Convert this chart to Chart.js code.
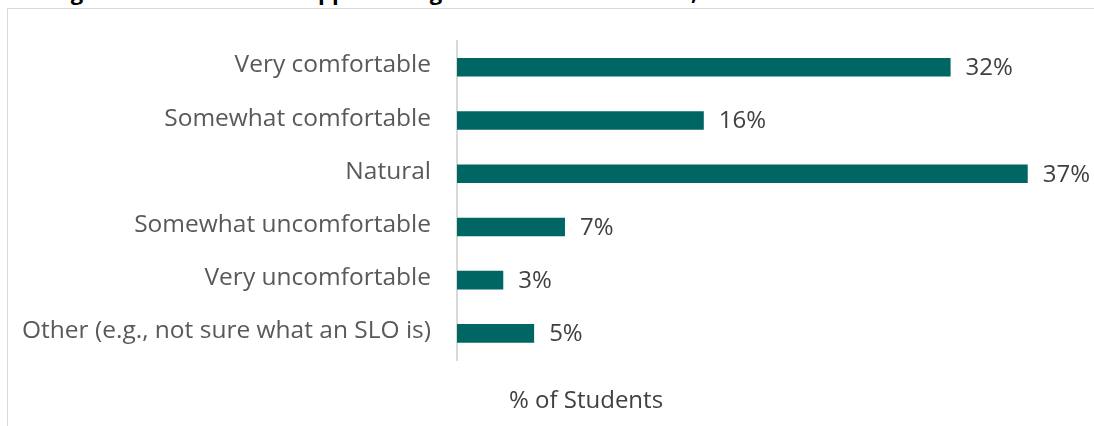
<!DOCTYPE html>
<html>
<head>
<meta charset="utf-8">
<script src="https://cdn.jsdelivr.net/npm/chart.js@4"></script>
<style>
    body { margin: 0; background: #fff; width: 1094px; height: 426px; overflow: hidden; position: relative; font-family: "Open Sans", "Noto Sans", sans-serif; }
    .fig-title { position: absolute; left: 52px; top: -20px; white-space: nowrap; font-size: 22px; line-height: 22px; font-weight: 700; color: #000; }
    .frame { position: absolute; left: 7px; top: 8px; width: 1200px; height: 500px; border-left: 1px solid #d9d9d9; border-top: 1px solid #d9d9d9; }
    #chart-wrap { position: absolute; left: 0; top: 0; width: 1094px; height: 426px; }
</style>
</head>
<body>
<div class="fig-title">Figure 3. Comfort with Approaching SLOs in the Classroom, All Students</div>
<div class="frame"></div>
<div id="chart-wrap"><canvas id="chart-comfort"></canvas></div>
<script>
const categories = [
    'Very comfortable',
    'Somewhat comfortable',
    'Natural',
    'Somewhat uncomfortable',
    'Very uncomfortable',
    'Other (e.g., not sure what an SLO is)'
];
const studentPct = [32, 16, 37, 7, 3, 5];
const axisTitle = '% of Students';

// value labels at the end of each bar
const barLabels = {
    id: 'barLabels',
    afterDatasetsDraw(chart) {
        const ctx = chart.ctx;
        const meta = chart.getDatasetMeta(0);
        ctx.save();
        ctx.font = '24px "Open Sans", "Noto Sans", sans-serif';
        ctx.fillStyle = '#404040';
        ctx.textAlign = 'left';
        ctx.textBaseline = 'middle';
        meta.data.forEach((bar, i) => {
            ctx.fillText(studentPct[i] + '%', bar.x + 15, bar.y + 1);
        });
        ctx.restore();
    }
};

// axis title sits under the plot, a bit left of centre
const axisLabel = {
    id: 'axisLabel',
    afterDraw(chart) {
        const ctx = chart.ctx;
        ctx.save();
        ctx.font = '24px "Open Sans", "Noto Sans", sans-serif';
        ctx.fillStyle = '#404040';
        ctx.textAlign = 'center';
        ctx.textBaseline = 'middle';
        ctx.fillText(axisTitle, 586, 401);
        ctx.restore();
    }
};

const ctx = document.getElementById('chart-comfort').getContext('2d');
new Chart(ctx, {
    type: 'bar',
    data: {
        labels: categories,
        datasets: [{
            data: studentPct,
            backgroundColor: '#006663',
            borderWidth: 0,
            barPercentage: 0.7,
            categoryPercentage: 0.5
        }]
    },
    options: {
        indexAxis: 'y',
        responsive: true,
        maintainAspectRatio: false,
        animation: false,
        layout: { padding: { top: 37, bottom: 66, right: 20, left: 0 } },
        plugins: {
            legend: { display: false },
            tooltip: { enabled: false }
        },
        scales: {
            x: {
                display: false,
                min: 0,
                max: 40
            },
            y: {
                afterFit(scale) { scale.width = 457; },
                grid: { display: false, drawTicks: false },
                border: { display: true, color: '#d9d9d9', width: 2 },
                ticks: {
                    color: '#595959',
                    padding: 26,
                    labelOffset: -2,
                    font: { family: '"Open Sans", "Noto Sans", sans-serif', size: 24.5 }
                }
            }
        }
    },
    plugins: [barLabels, axisLabel]
});
</script>
</body>
</html>
